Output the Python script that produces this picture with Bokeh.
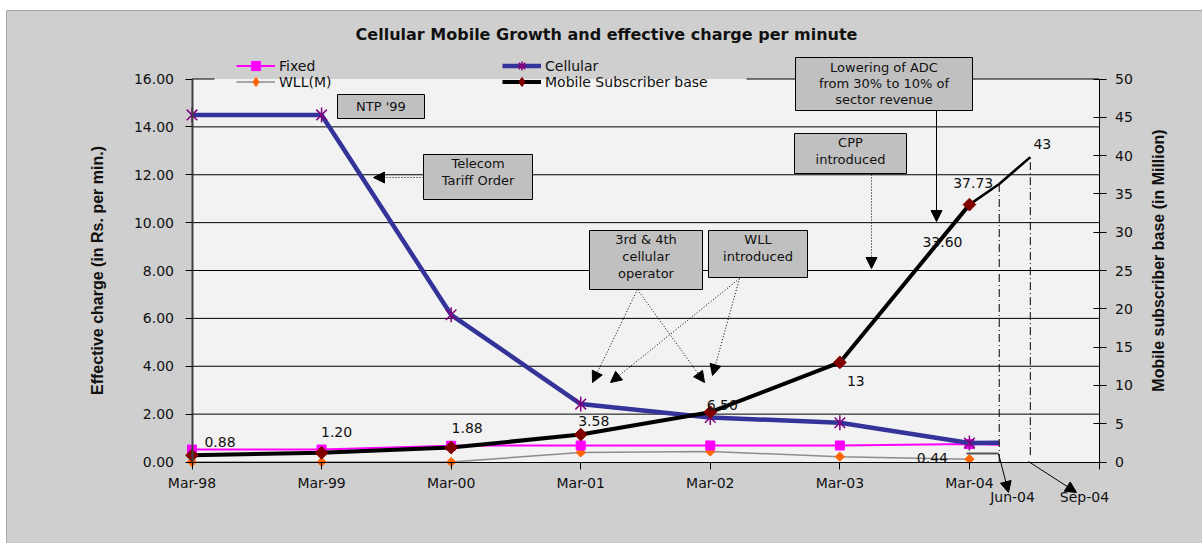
import math
from bokeh.plotting import figure
from bokeh.models import (Range1d, LinearAxis, FixedTicker, Legend, LegendItem, Label,
                          BoxAnnotation, Arrow, NormalHead, ColumnDataSource, PrintfTickFormatter)
from bokeh.embed import file_html
from bokeh.resources import INLINE
from bokeh.core.properties import value

# ---------------- data ----------------
periods = ["Mar-98", "Mar-99", "Mar-00", "Mar-01", "Mar-02", "Mar-03", "Mar-04"]
fixed = [0.52, 0.52, 0.68, 0.69, 0.69, 0.69, 0.75]
wll = [0.00, 0.00, 0.00, 0.40, 0.44, 0.22, 0.12]
cellular = [14.50, 14.50, 6.15, 2.42, 1.86, 1.64, 0.79]
subscribers = [0.88, 1.20, 1.88, 3.58, 6.50, 13.0, 33.60]
sub_labels = ["0.88", "1.20", "1.88", "3.58", "6.50", "13", "33.60"]
wll_label = "0.44"

proj_periods = ["Jun-04", "Sep-04"]
proj_x = [6.23, 6.47]
proj_subscribers = [36.3, 39.8]
proj_labels = ["37.73", "43"]
cellular_jun = 0.80
fixed_jun = 0.72

left_ticks = [0, 2, 4, 6, 8, 10, 12, 14, 16]
right_ticks = [0, 5, 10, 15, 20, 25, 30, 35, 40, 45, 50]

title_text = "Cellular Mobile Growth and effective charge per minute"
left_title = "Effective charge (in Rs. per min.)"
right_title = "Mobile subscriber base (in Million)"

# ---------------- layout helpers (page pixels -> data units) ----------------
W, H = 1202, 543
PX_L, PX_R, PY_T, PY_B = 191.5, 1098.5, 78.5, 461.5
def dx(px):
    return (px - PX_L) / (PX_R - PX_L) * 7.0
def dy(py):
    return (PY_B - py) / (PY_B - PY_T) * 16.0
R = 50.0 / 16.0
NAN = float("nan")

FONT = "DejaVu Sans"
BOLD = "Liberation Sans"
TXT = "#111111"

p = figure(width=W, height=H, x_range=Range1d(dx(0), dx(W)), y_range=Range1d(dy(H), dy(0)),
           output_backend="svg", toolbar_location=None,
           min_border_left=0, min_border_right=0, min_border_top=0, min_border_bottom=0,
           background_fill_color="white", border_fill_color="white")
p.title.visible = False
p.outline_line_color = None
p.extra_y_ranges = {"right": Range1d(dy(H) * R, dy(0) * R)}

# chart area and plot area backgrounds
p.add_layout(BoxAnnotation(left=dx(6), top=dy(10), right=dx(W + 20), bottom=dy(H + 20),
                           fill_color="#cfcfcf", fill_alpha=1.0, line_color="#111111",
                           line_width=1, level="image"))
p.add_layout(BoxAnnotation(left=0, right=7, bottom=0, top=16, fill_color="#f2f2f2",
                           fill_alpha=1.0, line_color=None, level="image"))

# axes (drawn at fixed data locations)
xa = p.xaxis[0]
xa.fixed_location = 0
xa.bounds = (0, 7)
xa.ticker = FixedTicker(ticks=list(range(8)))
ov = {i: periods[i] for i in range(7)}
ov[7] = ""
xa.major_label_overrides = ov
xa.axis_line_color = "black"
xa.major_tick_out = 7
xa.major_tick_in = 0
xa.minor_tick_out = 0
xa.minor_tick_in = 0
xa.major_label_standoff = 6
xa.major_label_text_font = FONT
xa.major_label_text_font_size = "14px"
xa.major_label_text_color = TXT

ya = p.yaxis[0]
ya.fixed_location = 0
ya.bounds = (0, 16)
ya.ticker = FixedTicker(ticks=left_ticks)
ya.formatter = PrintfTickFormatter(format="%.2f")
ya.axis_line_color = "#404040"
ya.axis_line_width = 2
ya.major_tick_out = 7
ya.major_tick_in = 0
ya.minor_tick_out = 0
ya.minor_tick_in = 0
ya.major_label_standoff = 11
ya.major_label_text_font = FONT
ya.major_label_text_font_size = "14px"
ya.major_label_text_color = TXT

ra = LinearAxis(y_range_name="right", ticker=FixedTicker(ticks=right_ticks),
                fixed_location=7, bounds=(0, 50))
ra.axis_line_color = "black"
ra.major_tick_out = 7
ra.major_tick_in = 6
ra.minor_tick_out = 0
ra.minor_tick_in = 0
ra.major_label_standoff = 9
ra.major_label_text_font = FONT
ra.major_label_text_font_size = "14px"
ra.major_label_text_color = TXT
p.add_layout(ra, "right")

# horizontal grid lines at the left-axis ticks (top one interrupted by the legend)
p.xgrid.visible = False
p.ygrid.visible = False
grid_y = left_ticks[1:-1]
p.segment(x0=[0] * len(grid_y), y0=grid_y, x1=[7] * len(grid_y), y1=grid_y,
          line_color="black", line_width=1)
top = left_ticks[-1]
p.segment(x0=[0, dx(746)], y0=[top, top], x1=[dx(214), 7], y1=[top, top],
          line_color="black", line_width=1)

xs = list(range(7))

# ---------------- series ----------------
wll_r = p.line(xs, wll, line_color="#8c8c8c", line_width=1.5)
p.scatter(xs, wll, marker="square", angle=math.pi / 4, size=6.5,
          fill_color="#ff6600", line_color="#ff6600")

fixed_r = p.line(xs + [proj_x[0]], fixed + [fixed_jun], line_color="#ff00ff", line_width=2)
fixed_m = p.scatter(xs, fixed, marker="square", size=9, fill_color="#ff00ff", line_color="#ff00ff")

cell_r = p.line(xs + [proj_x[0]], cellular + [cellular_jun], line_color="#333399", line_width=4.5)
p.scatter(xs, cellular, marker="x", size=15, line_color="#800080", line_width=1.5)
p.scatter(xs, cellular, marker="dash", angle=math.pi / 2, size=15,
          line_color="#800080", line_width=1.5)

# projection dash-dot verticals
p.segment(x0=proj_x, y0=[0, 0.9], x1=proj_x, y1=proj_subscribers, y_range_name="right",
          line_color="black", line_width=1, line_dash="8 3 1 3")

sub_r = p.line(xs, subscribers, line_color="black", line_width=4, y_range_name="right")
p.line([xs[-1]] + proj_x, [subscribers[-1]] + proj_subscribers, line_color="black",
       line_width=2.5, y_range_name="right")
p.scatter(xs, subscribers, marker="square", angle=math.pi / 4, size=9,
          fill_color="#800000", line_color="#800000", y_range_name="right")

# legend-only marker renderers (a single NaN point, never drawn on the plot)
leg_wll = p.scatter(x=[NAN], y=[NAN], marker="diamond", size=9, fill_color="#ff6600", line_color="#ff6600")
leg_cell = p.scatter(x=[NAN], y=[NAN], marker="asterisk", size=9, line_color="#800080", line_width=1.5)
leg_sub = p.scatter(x=[NAN], y=[NAN], marker="diamond", size=9, fill_color="#800000", line_color="#800000")

# data labels
lab_src = ColumnDataSource(dict(
    x=xs + proj_x,
    y=subscribers + proj_subscribers,
    t=sub_labels + proj_labels,
    ox=[28, 15, 16, 13, 12, 16, -27, -26, 12],
    oy=[-13, -21, -20, -14, -7, 19, 37, -1, -13],
))
p.text(x="x", y="y", text="t", x_offset="ox", y_offset="oy", source=lab_src,
       y_range_name="right", text_align="center", text_baseline="middle",
       text_font=value(FONT), text_font_size="14px", text_color=TXT)
p.text(x=[xs[-1]], y=[wll[-1]], text=[wll_label], x_offset=-37, y_offset=-1,
       text_align="center", text_baseline="middle",
       text_font=value(FONT), text_font_size="14px", text_color=TXT)

# ---------------- annotation boxes ----------------
boxes = [
    (337, 424, 94, 118, ["NTP '99"], [106]),
    (423, 532, 154, 199, ["Telecom", "Tariff Order"], [163, 180]),
    (589, 702, 230, 289, ["3rd & 4th", "cellular", "operator"], [239, 256, 273]),
    (708, 807, 230, 277, ["WLL", "introduced"], [239, 256]),
    (794, 906, 133, 173, ["CPP", "introduced"], [142, 159]),
    (795, 972, 57, 110, ["Lowering of ADC", "from 30% to 10% of", "sector revenue"], [67, 83, 99]),
]
for l, r, t, b, lines, ys in boxes:
    p.add_layout(BoxAnnotation(left=dx(l), right=dx(r), top=dy(t), bottom=dy(b),
                               fill_color="#c0c0c0", fill_alpha=1.0,
                               line_color="black", line_width=1, line_alpha=1.0))
    for txt, yy in zip(lines, ys):
        p.add_layout(Label(x=dx((l + r) / 2), y=dy(yy), text=txt, text_align="center",
                           text_baseline="middle", text_font=FONT, text_font_size="13px",
                           text_color=TXT))

arrows = [
    ((423, 177), (373, 177), "1 2"),
    ((936, 110), (936, 221), "solid"),
    ((871, 174), (871, 268), "1 2"),
    ((637, 289), (592, 382), "1 2"),
    ((637, 289), (704, 382), "1 2"),
    ((739, 278), (610, 382), "1 2"),
    ((739, 278), (712, 375), "1 2"),
    ((998, 453), (1008, 492), "solid"),
    ((1028, 461), (1076, 492), "solid"),
]
for (x0, y0), (x1, y1), dash in arrows:
    p.add_layout(Arrow(x_start=dx(x0), y_start=dy(y0), x_end=dx(x1), y_end=dy(y1),
                       line_color="black", line_width=1, line_dash=dash,
                       end=NormalHead(size=11, fill_color="black", line_color="black")))
# connector to Jun-04 arrow
p.add_layout(Arrow(x_start=dx(966), y_start=dy(453), x_end=dx(998), y_end=dy(453), end=None,
                   line_color="#555555", line_width=2))

# projection period labels
for txt, cx in zip(proj_periods, [1012, 1084]):
    p.add_layout(Label(x=dx(cx), y=dy(496), text=txt, text_align="center", text_baseline="middle",
                       text_font=FONT, text_font_size="14px", text_color=TXT))

# title and axis titles
p.add_layout(Label(x=dx(606), y=dy(34), text=title_text, text_align="center", text_baseline="middle",
                   text_font=FONT, text_font_size="16px", text_font_style="bold", text_color=TXT))
p.add_layout(Label(x=dx(97), y=dy(270), text=left_title, angle=math.pi / 2, text_align="center",
                   text_baseline="middle", text_font=BOLD, text_font_size="16px",
                   text_font_style="bold", text_color=TXT))
p.add_layout(Label(x=dx(1158), y=dy(260), text=right_title, angle=math.pi / 2, text_align="center",
                   text_baseline="middle", text_font=BOLD, text_font_size="16px",
                   text_font_style="bold", text_color=TXT))

# legends: one horizontal legend per row, columns aligned through label_width
common = dict(orientation="horizontal", background_fill_alpha=0, border_line_color=None,
              padding=0, margin=0, spacing=0, glyph_height=23, glyph_width=39,
              label_height=16, label_width=223, label_standoff=4,
              label_text_font=FONT, label_text_font_size="14px", label_text_color=TXT)
leg_row1 = Legend(items=[LegendItem(label="Fixed", renderers=[fixed_r, fixed_m]),
                         LegendItem(label="Cellular", renderers=[cell_r, leg_cell])],
                  location=(236, H - 77), **common)
leg_row2 = Legend(items=[LegendItem(label="WLL(M)", renderers=[wll_r, leg_wll]),
                         LegendItem(label="Mobile Subscriber base", renderers=[sub_r, leg_sub])],
                  location=(236, H - 93), **common)
p.add_layout(leg_row1)
p.add_layout(leg_row2)

open("out.html", "w").write(file_html(p, INLINE))
